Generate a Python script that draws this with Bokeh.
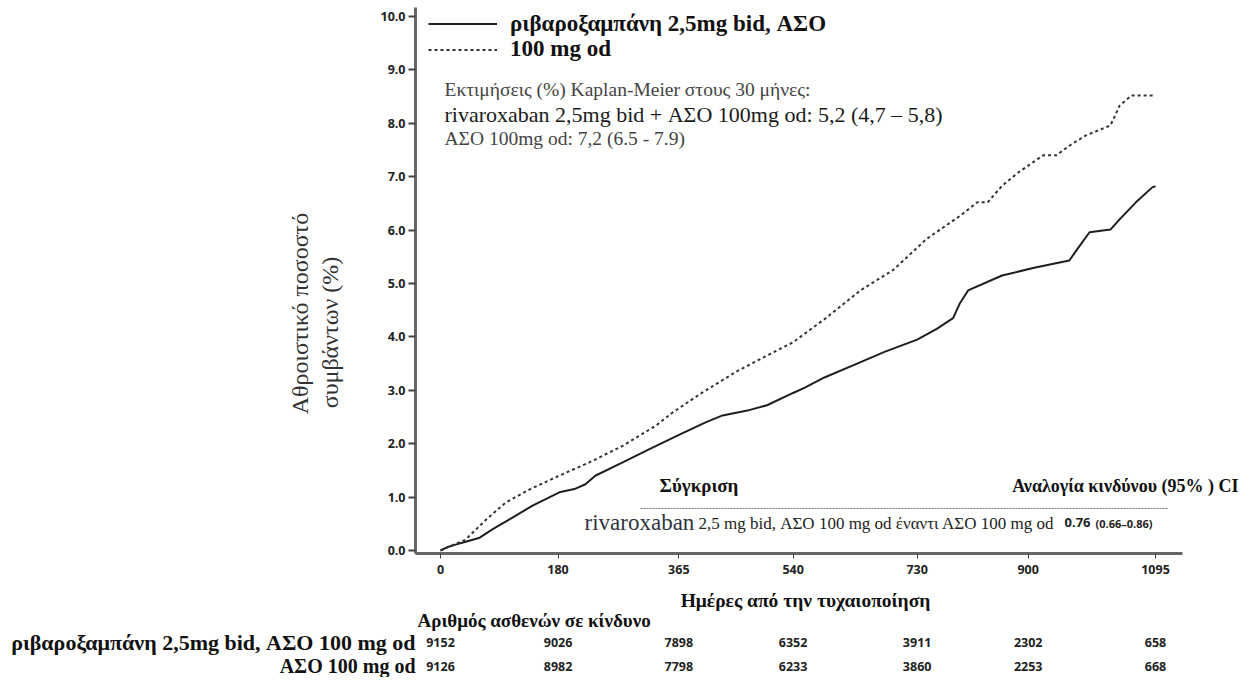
import math
from bokeh.plotting import figure
from bokeh.models import (Range1d, FixedTicker, PrintfTickFormatter, Label, LabelSet,
                          ColumnDataSource, Legend, LegendItem)
from bokeh.core.properties import value
from bokeh.embed import file_html
from bokeh.resources import INLINE

# ---------------- data ----------------
solid_days = [0, 10, 23, 40, 60, 80, 105, 141, 182, 205, 222, 237, 279, 320, 366, 406, 432,
              470, 500, 540, 558, 588, 638, 680, 730, 760, 785, 795, 808, 860, 911, 963, 975,
              994, 1026, 1040, 1065, 1090, 1095]
solid_vals = [0, 0.06, 0.11, 0.17, 0.24, 0.40, 0.58, 0.84, 1.09, 1.15, 1.24, 1.40, 1.65, 1.90,
              2.17, 2.40, 2.53, 2.62, 2.72, 2.95, 3.05, 3.24, 3.50, 3.72, 3.95, 4.15, 4.35, 4.62,
              4.87, 5.15, 5.30, 5.43, 5.64, 5.96, 6.01, 6.20, 6.52, 6.80, 6.82]

dotted_days = [0, 15, 38, 70, 100, 136, 176, 228, 279, 330, 355, 400, 453, 500, 540, 590, 643,
               694, 744, 796, 822, 838, 860, 885, 923, 943, 963, 988, 1026, 1040, 1058, 1094]
dotted_vals = [0, 0.08, 0.20, 0.58, 0.90, 1.14, 1.37, 1.65, 1.96, 2.34, 2.58, 2.95, 3.35, 3.65,
               3.90, 4.35, 4.87, 5.26, 5.83, 6.27, 6.52, 6.52, 6.83, 7.08, 7.40, 7.40, 7.58,
               7.77, 7.96, 8.33, 8.52, 8.52]

x_ticks = [0, 180, 365, 540, 730, 900, 1095]
y_ticks = [0, 1, 2, 3, 4, 5, 6, 7, 8, 9, 10]

risk_riva = [9152, 9026, 7898, 6352, 3911, 2302, 658]
risk_asa = [9126, 8982, 7798, 6233, 3860, 2253, 668]

series_names = ["ριβαροξαμπάνη 2,5mg bid, ΑΣΟ", "100 mg od"]
row_names = ["ριβαροξαμπάνη 2,5mg bid, ΑΣΟ 100 mg od", "ΑΣΟ 100 mg od"]

km_lines = ["Εκτιμήσεις (%) Kaplan-Meier στους 30 μήνες:",
            "rivaroxaban 2,5mg bid + ΑΣΟ 100mg od: 5,2 (4,7 – 5,8)",
            "ΑΣΟ 100mg od: 7,2 (6.5 - 7.9)"]

x_title = "Ημέρες από την τυχαιοποίηση"
y_title = ["Αθροιστικό ποσοστό", "συμβάντων (%)"]
risk_title = "Αριθμός ασθενών σε κίνδυνο"
cmp_title = "Σύγκριση"
hr_title = "Αναλογία κινδύνου (95% ) CI"
cmp_name = "rivaroxaban"
cmp_rest = "2,5 mg bid, ΑΣΟ 100 mg od έναντι ΑΣΟ 100 mg od"
hr_val = "0.76"
hr_ci = "(0.66–0.86)"

# ---------------- layout helpers ----------------
SERIF = "Liberation Serif"
SANS = "Open Sans"
W, H = 1240, 677          # canvas, placed at page offset (8, 8)
OFF = 8
PX_PER_DAY = 715 / 1095   # day 0 at page x 448, day 1095 at page x 1163
PX_PER_PCT = 53.4         # 0 % at page y 558


def dx(px):
    """page x pixel -> day coordinate"""
    return (px - 448) / PX_PER_DAY


def dy(py):
    """page y pixel -> percent coordinate"""
    return (558 - py) / PX_PER_PCT


p = figure(width=W, height=H, output_backend="svg", toolbar_location=None,
           x_range=Range1d(dx(OFF), dx(OFF + W)), y_range=Range1d(dy(OFF + H), dy(OFF)),
           min_border=0)
p.outline_line_color = None
p.grid.visible = False
p.background_fill_color = "white"
p.border_fill_color = "white"

# axes drawn at fixed positions, limited by bounds
x_lo, x_hi = dx(423), dx(1190)
y_lo, y_hi = dy(561), dy(15)
p.xaxis.fixed_location = y_lo
p.xaxis.bounds = (x_lo, x_hi)
p.yaxis.fixed_location = x_lo
p.yaxis.bounds = (y_lo, y_hi)

for ax in (p.xaxis[0], p.yaxis[0]):
    ax.axis_line_color = "#666666"
    ax.axis_line_width = 3
    ax.major_tick_line_color = "#444444"
    ax.minor_tick_line_color = None
    ax.major_tick_in = 0
    ax.major_label_text_font = SANS
    ax.major_label_text_font_style = "bold"
    ax.major_label_text_font_size = "12.5px"
    ax.major_label_text_color = "#222222"

p.xaxis.ticker = FixedTicker(ticks=x_ticks)
p.xaxis.major_tick_out = 5
p.xaxis.major_tick_line_width = 1
p.xaxis.major_label_standoff = 6

p.yaxis.ticker = FixedTicker(ticks=y_ticks)
p.yaxis.formatter = PrintfTickFormatter(format="%.1f")
p.yaxis.major_tick_out = 7
p.yaxis.major_tick_line_width = 2
p.yaxis.major_label_standoff = 3

# curves
r_solid = p.line(solid_days, solid_vals, line_color="#1e1e1e", line_width=2)
r_dot = p.line(dotted_days, dotted_vals, line_color="#333333", line_width=2, line_dash="3 3")


def legend_at(label, renderer, center_py):
    item_h = 25
    bottom_canvas = (center_py - OFF) + item_h / 2
    lg = Legend(items=[LegendItem(label=label, renderers=[renderer])],
                location=(436 - OFF, H - bottom_canvas),
                background_fill_alpha=0, border_line_alpha=0,
                padding=0, margin=0, spacing=0, glyph_width=69, glyph_height=item_h,
                label_height=item_h, label_standoff=13,
                label_text_font=SERIF, label_text_font_style="bold",
                label_text_font_size="23px", label_text_color="#111111")
    p.add_layout(lg)


legend_at(series_names[0], r_solid, 32)
legend_at(series_names[1], r_dot, 57.5)


def lab(text, px, py, size, bold=False, align="left", color="#222222", font=SERIF, angle=0.0):
    p.add_layout(Label(x=dx(px), y=dy(py), text=text, text_font=font,
                       text_font_size=f"{size}px",
                       text_font_style="bold" if bold else "normal",
                       text_align=align, text_baseline="middle", text_color=color,
                       angle=angle))


# Kaplan-Meier estimate box
lab(km_lines[0], 452, 97, 19.5, color="#444444")
lab(km_lines[1], 452, 122, 22, color="#1a1a1a")
lab(km_lines[2], 452, 146, 19.5, color="#444444")

# comparison box
lab(cmp_title, 667, 493, 19, bold=True, color="#111111")
lab(hr_title, 1246, 493, 18, bold=True, align="right", color="#111111")
p.segment(x0=[dx(648)], y0=[dy(516)], x1=[dx(1176)], y1=[dy(516)],
          line_color="#777777", line_width=1, line_dash="2 1")
lab(cmp_name, 592, 530, 23, color="#2f3440")
lab(cmp_rest, 706, 531, 17, color="#222222")
lab(hr_val, 1072, 530, 13, bold=True, font=SANS, color="#222222")
lab(hr_ci, 1103, 531, 11, bold=True, font=SANS, color="#222222")

# axis titles
lab(x_title, 813, 608, 19.5, bold=True, align="center", color="#111111")
lab(y_title[0], 307, 321, 24, align="center", color="#333333", angle=math.pi / 2)
lab(y_title[1], 337, 340, 24, align="center", color="#333333", angle=math.pi / 2)

# number at risk table
ROW1, ROW2 = 650, 673.5
lab(risk_title, 425, 628, 19, bold=True, color="#111111")
lab(row_names[0], 423, ROW1, 22, bold=True, align="right", color="#111111")
lab(row_names[1], 423, ROW2, 20, bold=True, align="right", color="#111111")

risk_src = ColumnDataSource(dict(
    x=x_ticks + x_ticks,
    y=[dy(ROW1)] * len(x_ticks) + [dy(ROW2)] * len(x_ticks),
    t=[str(v) for v in risk_riva] + [str(v) for v in risk_asa]))
p.add_layout(LabelSet(x="x", y="y", text="t", source=risk_src,
                      text_align="center", text_baseline="middle",
                      text_font=value(SANS), text_font_style="bold",
                      text_font_size=value("12.5px"), text_color="#222222"))

open("out.html", "w").write(file_html(p, INLINE))
